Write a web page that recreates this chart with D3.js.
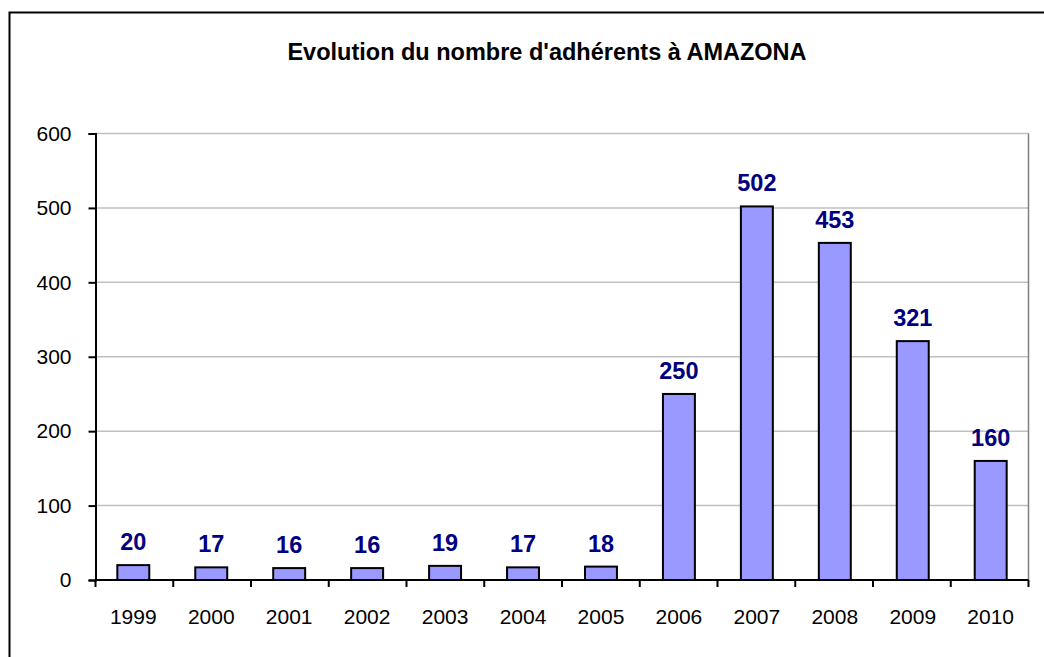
<!DOCTYPE html>
<html>
<head>
<meta charset="utf-8">
<script src="https://d3js.org/d3.v7.min.js"></script>
<style>
  body { margin: 0; background: #fff; }
  text { font-family: "Liberation Sans", Arial, sans-serif; }
</style>
</head>
<body>
<script>
// données
const years = ["1999", "2000", "2001", "2002", "2003", "2004", "2005", "2006", "2007", "2008", "2009", "2010"];
const members = [20, 17, 16, 16, 19, 17, 18, 250, 502, 453, 321, 160];
const yTicks = [0, 100, 200, 300, 400, 500, 600];
const chartTitle = "Evolution du nombre d'adhérents à AMAZONA";

const width = 1044, height = 657;
const plot = { left: 95.5, right: 1028.5, top: 133.5, bottom: 580 };

const svg = d3.select("body").append("svg")
    .attr("width", width)
    .attr("height", height);

// cadre extérieur (déborde à droite et en bas)
svg.append("rect")
    .attr("x", 9.5).attr("y", 12.5)
    .attr("width", 1100).attr("height", 700)
    .attr("fill", "#fff")
    .attr("stroke", "#000")
    .attr("stroke-width", 2);

svg.append("text")
    .attr("x", 547).attr("y", 60)
    .attr("text-anchor", "middle")
    .attr("font-size", "23.5px")
    .attr("font-weight", "bold")
    .text(chartTitle);

const x = d3.scaleBand()
    .domain(years)
    .range([plot.left, plot.right])
    .paddingInner(0.59)
    .paddingOuter(0.28);

const y = d3.scaleLinear()
    .domain([0, 600])
    .range([plot.bottom, plot.top]);

// quadrillage
svg.append("g")
    .selectAll("line")
    .data(yTicks.filter(d => d > 0))
    .enter()
    .append("line")
    .attr("x1", plot.left).attr("x2", plot.right)
    .attr("y1", d => y(d)).attr("y2", d => y(d))
    .attr("stroke", "#c0c0c0")
    .attr("stroke-width", 1.5);

// bord droit de la zone de traçage
svg.append("line")
    .attr("x1", plot.right).attr("x2", plot.right)
    .attr("y1", plot.top).attr("y2", plot.bottom)
    .attr("stroke", "#808080")
    .attr("stroke-width", 1.5);

// barres
svg.append("g")
    .selectAll("rect")
    .data(members)
    .enter()
    .append("rect")
    .attr("x", (d, i) => x(years[i]))
    .attr("y", d => y(d))
    .attr("width", x.bandwidth())
    .attr("height", d => y(0) - y(d))
    .attr("fill", "#9999ff")
    .attr("stroke", "#000")
    .attr("stroke-width", 2);

// étiquettes de valeurs
svg.append("g")
    .selectAll("text")
    .data(members)
    .enter()
    .append("text")
    .attr("x", (d, i) => x(years[i]) + x.bandwidth() / 2)
    .attr("y", d => y(d) - 15)
    .attr("text-anchor", "middle")
    .attr("font-size", "23.5px")
    .attr("font-weight", "bold")
    .attr("fill", "#000080")
    .text(d => d);

// axe Y
const yAxis = svg.append("g")
    .attr("transform", "translate(" + plot.left + ",0)")
    .call(d3.axisLeft(y).tickValues(yTicks).tickSize(7).tickPadding(17));
yAxis.select(".domain").attr("stroke", "#000").attr("stroke-width", 2);
yAxis.selectAll(".tick line").attr("stroke", "#000").attr("stroke-width", 2);
yAxis.selectAll("text")
    .attr("font-size", "21px")
    .attr("fill", "#000")
    .style("font-family", "Liberation Sans, Arial, sans-serif");

// axe X
const step = (plot.right - plot.left) / years.length;
const xAxis = svg.append("g")
    .attr("transform", "translate(0," + plot.bottom + ")");
xAxis.append("line")
    .attr("x1", plot.left).attr("x2", plot.right)
    .attr("stroke", "#000").attr("stroke-width", 2);
xAxis.selectAll(".tk")
    .data(d3.range(years.length + 1))
    .enter()
    .append("line")
    .attr("class", "tk")
    .attr("x1", i => plot.left + i * step)
    .attr("x2", i => plot.left + i * step)
    .attr("y1", 0).attr("y2", 7)
    .attr("stroke", "#000").attr("stroke-width", 2);
xAxis.selectAll("text")
    .data(years)
    .enter()
    .append("text")
    .attr("x", d => x(d) + x.bandwidth() / 2)
    .attr("y", 43.5)
    .attr("text-anchor", "middle")
    .attr("font-size", "21px")
    .text(d => d);
</script>
</body>
</html>
